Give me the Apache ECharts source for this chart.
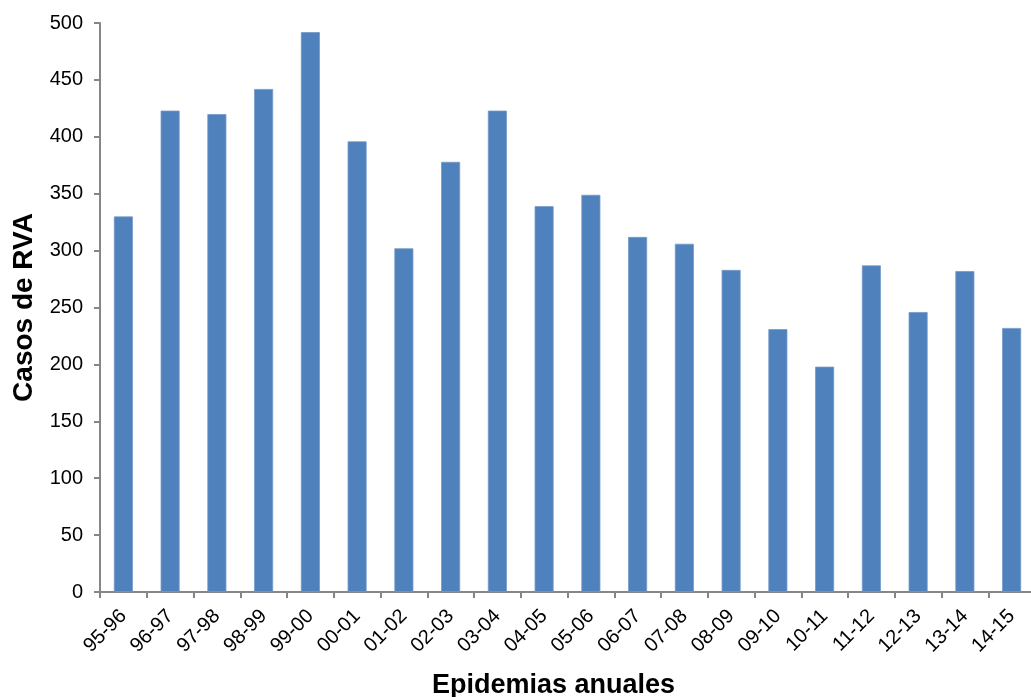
<!DOCTYPE html>
<html>
<head>
<meta charset="utf-8">
<script src="https://cdn.jsdelivr.net/npm/echarts@6/dist/echarts.min.js"></script>
<style>html,body{margin:0;padding:0;background:#fff}#c{width:1031px;height:697px}</style>
</head>
<body>
<div id="c"></div>
<script>
const categories = ["95-96","96-97","97-98","98-99","99-00","00-01","01-02","02-03","03-04","04-05","05-06","06-07","07-08","08-09","09-10","10-11","11-12","12-13","13-14","14-15"];
const casos = [330,423,420,442,492,396,302,378,423,339,349,312,306,283,231,198,287,246,282,232];
const yTicks = [0,50,100,150,200,250,300,350,400,450,500];

const chart = echarts.init(document.getElementById('c'), null, {renderer:'canvas'});
const axisGray = '#868686';
chart.setOption({
  animation: false,
  grid: {left: 100, right: -4, top: 23, bottom: 105, containLabel: false, outerBoundsMode: 'none'},
  xAxis: {
    type: 'category',
    data: categories,
    boundaryGap: true,
    axisLine: {lineStyle: {color: axisGray, width: 2}},
    axisTick: {show: true, inside: false, length: 6, alignWithLabel: false, lineStyle: {color: axisGray, width: 2}},
    axisLabel: {rotate: 45, interval: 0, color: '#000', fontFamily: 'Liberation Sans, Arial', fontSize: 20, margin: 21},
    name: 'Epidemias anuales',
    nameLocation: 'middle',
    nameGap: 80,
    nameTextStyle: {fontFamily: 'Liberation Sans, Arial', fontWeight: 'bold', fontSize: 27, color: '#000', padding: [0, 28, 0, 0]}
  },
  yAxis: {
    type: 'value',
    min: yTicks[0],
    max: yTicks[yTicks.length - 1],
    interval: 50,
    splitLine: {show: false},
    axisLine: {show: true, lineStyle: {color: axisGray, width: 2}},
    axisTick: {show: true, inside: false, length: 6, lineStyle: {color: axisGray, width: 2}},
    axisLabel: {color: '#000', fontFamily: 'Liberation Sans, Arial', fontSize: 20, margin: 17},
    name: 'Casos de RVA',
    nameLocation: 'middle',
    nameRotate: 90,
    nameGap: 62,
    nameTextStyle: {fontFamily: 'Liberation Sans, Arial', fontWeight: 'bold', fontSize: 28, color: '#000'}
  },
  series: [{
    type: 'bar',
    data: casos,
    barWidth: 19,
    itemStyle: {color: '#4F81BD', borderColor: '#7399c8', borderWidth: 0.8}
  }]
});
</script>
</body>
</html>
